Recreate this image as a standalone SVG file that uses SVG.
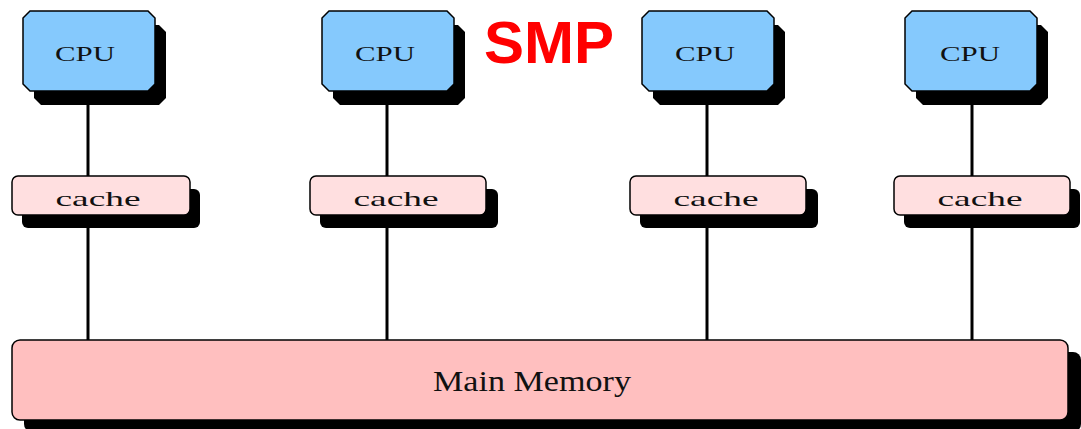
<svg xmlns="http://www.w3.org/2000/svg" width="1081" height="429" viewBox="0 0 1081 429">
<defs>
<style>
.sh{fill:#000}
.cpu{fill:#85c9fd;stroke:#000;stroke-width:1.5}
.cache{fill:#ffdfe0;stroke:#000;stroke-width:1.5}
.mem{fill:#ffbfbf;stroke:#000;stroke-width:1.5}
.lbl{font-family:"Liberation Serif","DejaVu Serif",serif;fill:#111;text-anchor:middle}
.ln{stroke:#000;stroke-width:3;fill:none}
.title{font-family:"Liberation Sans","DejaVu Sans",sans-serif;font-weight:bold;fill:#ff0000;font-size:60px}
</style>
<polygon id="cpuShape" points="7,0 125,0 132,7 132,73 125,80 7,80 0,73 0,7"/>
</defs>
<rect width="1081" height="429" fill="#fff"/>
<g id="connectors">
<line class="ln" x1="88" y1="91" x2="88" y2="340"/>
<line class="ln" x1="387" y1="91" x2="387" y2="340"/>
<line class="ln" x1="707" y1="91" x2="707" y2="340"/>
<line class="ln" x1="972" y1="91" x2="972" y2="340"/>
</g>
<g id="cpu1">
<use href="#cpuShape" x="34" y="25" class="sh"/>
<use href="#cpuShape" x="23" y="11" class="cpu"/>
<text class="lbl" x="85" y="61" font-size="22" textLength="60" lengthAdjust="spacingAndGlyphs">CPU</text>
</g>
<g id="cpu2">
<use href="#cpuShape" x="333" y="25" class="sh"/>
<use href="#cpuShape" x="322" y="11" class="cpu"/>
<text class="lbl" x="385" y="61" font-size="22" textLength="60" lengthAdjust="spacingAndGlyphs">CPU</text>
</g>
<g id="cpu3">
<use href="#cpuShape" x="653" y="25" class="sh"/>
<use href="#cpuShape" x="642" y="11" class="cpu"/>
<text class="lbl" x="705" y="61" font-size="22" textLength="60" lengthAdjust="spacingAndGlyphs">CPU</text>
</g>
<g id="cpu4">
<use href="#cpuShape" x="916" y="25" class="sh"/>
<use href="#cpuShape" x="905" y="11" class="cpu"/>
<text class="lbl" x="970" y="61" font-size="22" textLength="60" lengthAdjust="spacingAndGlyphs">CPU</text>
</g>
<g id="cache1">
<rect class="sh" x="22" y="189" width="178" height="39" rx="6"/>
<rect class="cache" x="12" y="176" width="178" height="39" rx="6"/>
<text class="lbl" x="98" y="206" font-size="22" textLength="85" lengthAdjust="spacingAndGlyphs">cache</text>
</g>
<g id="cache2">
<rect class="sh" x="320" y="189" width="178" height="39" rx="6"/>
<rect class="cache" x="310" y="176" width="176" height="39" rx="6"/>
<text class="lbl" x="396" y="206" font-size="22" textLength="85" lengthAdjust="spacingAndGlyphs">cache</text>
</g>
<g id="cache3">
<rect class="sh" x="640" y="189" width="178" height="39" rx="6"/>
<rect class="cache" x="630" y="176" width="176" height="39" rx="6"/>
<text class="lbl" x="716" y="206" font-size="22" textLength="85" lengthAdjust="spacingAndGlyphs">cache</text>
</g>
<g id="cache4">
<rect class="sh" x="904" y="189" width="176" height="39" rx="6"/>
<rect class="cache" x="894" y="176" width="176" height="39" rx="6"/>
<text class="lbl" x="980" y="206" font-size="22" textLength="85" lengthAdjust="spacingAndGlyphs">cache</text>
</g>
<g id="memory">
<rect class="sh" x="24" y="352" width="1057" height="80" rx="8"/>
<rect class="mem" x="12" y="340" width="1056" height="80" rx="8"/>
<text class="lbl" x="532" y="391" font-size="29" textLength="198" lengthAdjust="spacingAndGlyphs">Main Memory</text>
</g>
<text id="title" class="title" x="484" y="63" textLength="130" lengthAdjust="spacingAndGlyphs">SMP</text>
</svg>
